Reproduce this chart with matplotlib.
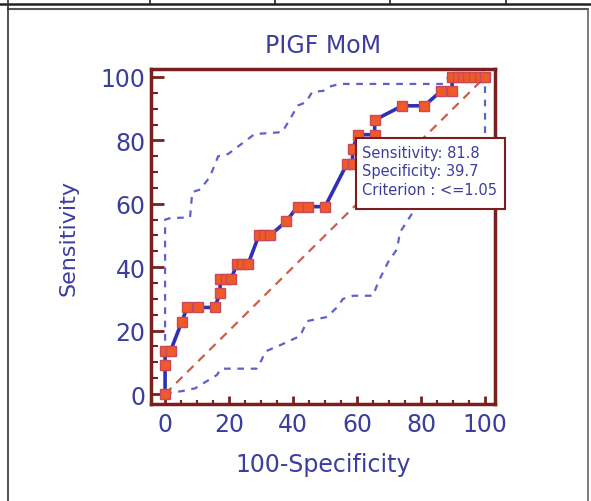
import matplotlib
matplotlib.use("Agg")
import matplotlib.pyplot as plt
from matplotlib.lines import Line2D
from matplotlib.patches import Rectangle
from matplotlib.ticker import MultipleLocator

plt.rcParams['font.family'] = ['DejaVu Sans']

# ROC curve (100-specificity, sensitivity)
roc_x = [0, 0, 0, 1.7, 5.2, 6.9, 10.3, 15.5, 17.2, 17.2, 19.0, 20.7,
         22.4, 24.1, 25.9, 29.3, 31.0, 32.8, 37.9, 41.4, 44.8, 50.0,
         56.9, 58.6, 58.6, 60.3, 65.5, 65.5, 74.1, 81.0, 86.2, 89.7,
         89.7, 91.4, 93.1, 94.8, 96.6, 98.3, 100]
roc_y = [0, 9.1, 13.6, 13.6, 22.7, 27.3, 27.3, 27.3, 31.8, 36.4, 36.4, 36.4,
         40.9, 40.9, 40.9, 50.0, 50.0, 50.0, 54.5, 59.1, 59.1, 59.1,
         72.7, 72.7, 77.3, 81.8, 81.8, 86.4, 90.9, 90.9, 95.5, 95.5,
         100, 100, 100, 100, 100, 100, 100]

# confidence bounds
upper_x = [0, 0, 1.7, 7.8, 8.5, 11, 14, 16.6, 19.7, 28, 36.6, 38.5, 41.5,
           44, 46, 49.4, 51.5, 54.7, 87, 88.5, 100]
upper_y = [0, 55, 55.5, 55.7, 63.7, 64.5, 68.5, 75, 75.7, 82, 82.6, 85.8,
           91, 92, 95.3, 95.6, 97, 97.8, 97.8, 100, 100]
lower_x = [0, 2.6, 5.7, 9.4, 16.2, 17.5, 28.6, 30.2, 31.3, 36.4, 42.2, 44.4,
           50.6, 53.8, 55.6, 58.8, 65, 66.6, 69.7, 72.5, 73.4, 77.5, 85, 95,
           100, 100]
lower_y = [0, 0.5, 1, 1.8, 6, 8, 8, 10.8, 13.4, 15.6, 18.3, 23, 24.3, 27.4,
           30, 31, 31, 35.3, 41.6, 45.7, 51, 57.4, 66, 74, 78, 100]

ticks = [0, 20, 40, 60, 80, 100]
info = ["Sensitivity: 81.8", "Specificity: 39.7", "Criterion : <=1.05"]

spine_c = '#7a1e1e'
text_c = '#3d3d9e'

fig = plt.figure(figsize=(5.91, 5.02), dpi=100)
ax = fig.add_axes([0.2555, 0.1932, 0.582, 0.6673])

ax.plot([0, 100], [0, 100], color='#c8604a', lw=1.6, ls=(0, (4, 3)), zorder=2)
ax.plot(upper_x, upper_y, color='#6060cc', lw=1.6, ls=(0, (3, 3)), zorder=2)
ax.plot(lower_x, lower_y, color='#6060cc', lw=1.6, ls=(0, (3, 3)), zorder=2)
ax.plot(roc_x, roc_y, color='#3030b4', lw=2.6, marker='s', ms=6.5,
        mfc='#f05a28', mec='#c84a5a', mew=1.0, zorder=3)

ax.set_xlim(-4.4, 103.1)
ax.set_ylim(-3.15, 102.5)
ax.set_xticks(ticks)
ax.set_yticks(ticks)
ax.xaxis.set_minor_locator(MultipleLocator(5))
ax.yaxis.set_minor_locator(MultipleLocator(5))

for s in ax.spines.values():
    s.set_color(spine_c)
    s.set_linewidth(2.5)
ax.tick_params(axis='x', which='major', direction='in', length=6, width=2,
               color=spine_c, labelcolor=text_c, labelsize=17, pad=6)
ax.tick_params(axis='x', which='minor', direction='in', length=3, width=1.5,
               color=spine_c)
ax.tick_params(axis='y', which='major', direction='in', length=9, width=2,
               color=spine_c, labelcolor=text_c, labelsize=17, pad=4)
ax.tick_params(axis='y', which='minor', direction='in', length=5, width=1.5,
               color=spine_c)

ax.set_title("PIGF MoM", color=text_c, fontsize=17, pad=12)
ax.set_xlabel("100-Specificity", color=text_c, fontsize=17, labelpad=11)
ax.set_ylabel("Sensitivity", color=text_c, fontsize=16, labelpad=16)

# info box
ax.add_patch(Rectangle((0.596, 0.582), 0.433, 0.212, transform=ax.transAxes,
                       facecolor='white', edgecolor=spine_c, lw=1.5,
                       clip_on=False, zorder=5))
for i, line in enumerate(info):
    ax.text(0.613, 0.752 - i * 0.056, line, transform=ax.transAxes,
            color=text_c, fontsize=10.5, va='center', ha='left', zorder=6)

# page frame / table lines
W, H = 591.0, 502.0
def fline(x0, y0, x1, y1, c='#222222', lw=1.5):
    fig.add_artist(Line2D([x0 / W, x1 / W], [1 - y0 / H, 1 - y1 / H],
                          transform=fig.transFigure, color=c, lw=lw))

fline(0, 4.5, W, 4.5, lw=1.8)
for xv in [150, 275, 390, 506]:
    fline(xv, 0, xv, 5, lw=1.2)
fline(8, 9.5, 588, 9.5, c='#555555', lw=1.5)
fline(8, 0, 8, H, c='#333333', lw=1.2)
fline(588, 9.5, 588, H, c='#666666', lw=1.2)

fig.savefig("out.png", dpi=100)
